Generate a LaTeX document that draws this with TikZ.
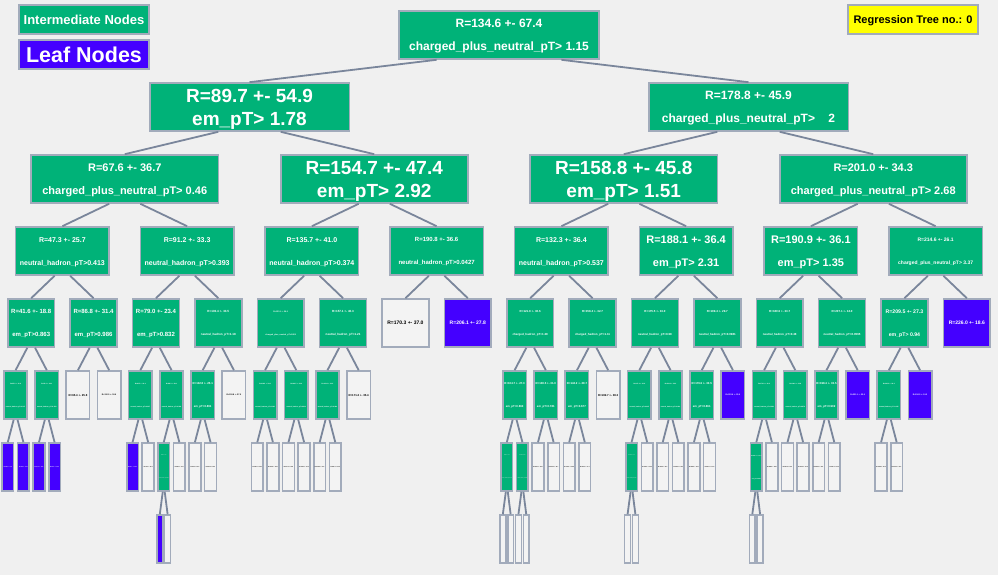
\documentclass[tikz,border=0pt]{standalone}
\usepackage{fontspec}
\setmainfont{Liberation Sans}
\definecolor{bgcol}{RGB}{240,240,240}
\definecolor{intercol}{RGB}{0,178,120}
\definecolor{sigcol}{RGB}{68,0,255}
\definecolor{bkgcol}{RGB}{243,243,243}
\definecolor{framecol}{RGB}{162,171,187}
\definecolor{edgecol}{RGB}{122,134,155}
\definecolor{titlecol}{RGB}{255,255,0}
\newcommand{\fsz}[1]{\fontsize{#1}{23}\selectfont\bfseries}
\newcommand{\ls}{\rule[-0.23em]{0pt}{1.176em}}
\newcommand{\two}[2]{\ls #1\\\ls #2}
\newcommand{\one}[1]{\ls #1}
\begin{document}
\begin{tikzpicture}[x = 1pt, y = -1pt,
      box/.style = {draw = framecol, line width = 1.6pt, inner sep = 0pt,
                    minimum height = 48pt, align = center},
      inter/.style = {box, fill = intercol, text = white},
      leafsig/.style = {box, fill = sigcol, text = white},
      leafbkg/.style = {box, fill = bkgcol, text = black},
      edge/.style = {draw = edgecol, line width = 1.8pt}]
      \path [use as bounding box, fill = bgcol] (0,0) rectangle (998,575);

      \node [inter, minimum width = 130pt, minimum height = 29pt, font = \fsz{13}]
        (legint) at (84,19.5) {\one{Intermediate Nodes}};
      \node [leafsig, minimum width = 130pt, minimum height = 29pt, font = \fsz{21.5}]
        (legleaf) at (84,54.5) {\one{Leaf Nodes}};
      \node [box, fill = titlecol, minimum width = 130pt, minimum height = 29pt, font = \fsz{11}]
        (title) at (913,19.5) {\one{Regression Tree no.: 0}};

      \node [inter, minimum width = 199.6pt, font = \fsz{12}] (n1-0) at (499,35)
        {\two{R=134.6 +- 67.4}{charged\_plus\_neutral\_pT> 1.15}};

      \node [inter, minimum width = 199.6pt, font = \fsz{19}] (n2-0) at (249.5,107)
        {\two{R=89.7 +- 54.9}{em\_pT> 1.78}};
      \node [inter, minimum width = 199.6pt, font = \fsz{12}] (n2-1) at (748.5,107)
        {\two{R=178.8 +- 45.9}{charged\_plus\_neutral\_pT>\ \ \ \ 2}};

      \node [inter, minimum width = 187.1pt, font = \fsz{11}] (n3-0) at (124.75,179)
        {\two{R=67.6 +- 36.7}{charged\_plus\_neutral\_pT> 0.46}};
      \node [inter, minimum width = 187.1pt, font = \fsz{19}] (n3-1) at (374.25,179)
        {\two{R=154.7 +- 47.4}{em\_pT> 2.92}};
      \node [inter, minimum width = 187.1pt, font = \fsz{19}] (n3-2) at (623.75,179)
        {\two{R=158.8 +- 45.8}{em\_pT> 1.51}};
      \node [inter, minimum width = 187.1pt, font = \fsz{11}] (n3-3) at (873.25,179)
        {\two{R=201.0 +- 34.3}{charged\_plus\_neutral\_pT> 2.68}};

      \node [inter, minimum width = 93.56pt, font = \fsz{7}] (n4-0) at (62.37,251)
        {\two{R=47.3 +- 25.7}{neutral\_hadron\_pT>0.413}};
      \node [inter, minimum width = 93.56pt, font = \fsz{7}] (n4-1) at (187.12,251)
        {\two{R=91.2 +- 33.3}{neutral\_hadron\_pT>0.393}};
      \node [inter, minimum width = 93.56pt, font = \fsz{7}] (n4-2) at (311.87,251)
        {\two{R=135.7 +- 41.0}{neutral\_hadron\_pT>0.374}};
      \node [inter, minimum width = 93.56pt, font = \fsz{6}] (n4-3) at (436.62,251)
        {\two{R=190.8 +- 36.6}{neutral\_hadron\_pT>0.0427}};
      \node [inter, minimum width = 93.56pt, font = \fsz{7}] (n4-4) at (561.37,251)
        {\two{R=132.3 +- 36.4}{neutral\_hadron\_pT>0.537}};
      \node [inter, minimum width = 93.56pt, font = \fsz{11}] (n4-5) at (686.12,251)
        {\two{R=188.1 +- 36.4}{em\_pT> 2.31}};
      \node [inter, minimum width = 93.56pt, font = \fsz{11}] (n4-6) at (810.87,251)
        {\two{R=190.9 +- 36.1}{em\_pT> 1.35}};
      \node [inter, minimum width = 93.56pt, font = \fsz{5}] (n4-7) at (935.62,251)
        {\two{R=214.6 +- 26.1}{charged\_plus\_neutral\_pT> 3.37}};

      \node [inter, minimum width = 46.78pt, font = \fsz{6}] (n5-0) at (31.19,323)
        {\two{R=41.6 +- 18.8}{em\_pT>0.863}};
      \node [inter, minimum width = 46.78pt, font = \fsz{6}] (n5-1) at (93.56,323)
        {\two{R=86.8 +- 31.4}{em\_pT>0.986}};
      \node [inter, minimum width = 46.78pt, font = \fsz{6}] (n5-2) at (155.94,323)
        {\two{R=79.0 +- 23.4}{em\_pT>0.832}};
      \node [inter, minimum width = 46.78pt, font = \fsz{3}] (n5-3) at (218.31,323)
        {\two{R=103.4 +- 33.5}{neutral\_hadron\_pT>1.18}};
      \node [inter, minimum width = 46.78pt, font = \fsz{2}] (n5-4) at (280.69,323)
        {\two{R=123.1 +- 39.0}{charged\_plus\_neutral\_pT>0.805}};
      \node [inter, minimum width = 46.78pt, font = \fsz{3}] (n5-5) at (343.06,323)
        {\two{R=157.1 +- 40.3}{neutral\_hadron\_pT>1.21}};
      \node [leafbkg, minimum width = 46.78pt, font = \fsz{5}] (n5-6) at (405.44,323)
        {\one{R=170.3 +- 37.0}};
      \node [leafsig, minimum width = 46.78pt, font = \fsz{5}] (n5-7) at (467.81,323)
        {\one{R=206.1 +- 27.8}};
      \node [inter, minimum width = 46.78pt, font = \fsz{2.9}] (n5-8) at (530.19,323)
        {\two{R=121.9 +- 30.6}{charged\_hadron\_pT>1.38}};
      \node [inter, minimum width = 46.78pt, font = \fsz{2.9}] (n5-9) at (592.56,323)
        {\two{R=158.4 +- 32.7}{charged\_hadron\_pT>1.11}};
      \node [inter, minimum width = 46.78pt, font = \fsz{2.9}] (n5-10) at (654.94,323)
        {\two{R=175.5 +- 33.0}{neutral\_hadron\_pT>0.68}};
      \node [inter, minimum width = 46.78pt, font = \fsz{2.9}] (n5-11) at (717.31,323)
        {\two{R=199.4 +- 29.7}{neutral\_hadron\_pT>0.0981}};
      \node [inter, minimum width = 46.78pt, font = \fsz{2.9}] (n5-12) at (779.69,323)
        {\two{R=180.6 +- 33.7}{neutral\_hadron\_pT>0.48}};
      \node [inter, minimum width = 46.78pt, font = \fsz{2.9}] (n5-13) at (842.06,323)
        {\two{R=207.1 +- 34.0}{neutral\_hadron\_pT>0.0565}};
      \node [inter, minimum width = 46.78pt, font = \fsz{5.2}] (n5-14) at (904.44,323)
        {\two{R=209.5 +- 27.3}{em\_pT> 0.94}};
      \node [leafsig, minimum width = 46.78pt, font = \fsz{5}] (n5-15) at (966.81,323)
        {\one{R=226.0 +- 18.6}};

      \foreach \k/\ta/\tb/\f in {0/{R=35.2 +- 12.9}/{neutral\_hadron\_pT>0.217}/1.6,
          1/{R=52.0 +- 18.1}/{neutral\_hadron\_pT>0.156}/1.6,
          4/{R=62.5 +- 19.4}/{neutral\_hadron\_pT>0.297}/1.6,
          5/{R=88.3 +- 20.9}/{neutral\_hadron\_pT>0.548}/1.6,
          6/{R=102.8 +- 25.1}/{em\_pT>0.891}/2.8,
          8/{R=118.2 +- 30.6}/{neutral\_hadron\_pT>0.192}/1.6,
          9/{R=149.5 +- 36.0}/{neutral\_hadron\_pT>0.611}/1.6,
          10/{R=143.6 +- 31.2}/{neutral\_hadron\_pT>0.184}/1.6,
          16/{R=104.7 +- 27.3}/{em\_pT>0.863}/2.8,
          17/{R=138.5 +- 31.0}/{em\_pT>0.781}/2.8,
          18/{R=142.2 +- 28.7}/{em\_pT>0.677}/2.8,
          20/{R=167.4 +- 31.9}/{neutral\_hadron\_pT>0.405}/1.6,
          21/{R=192.8 +- 33.2}/{neutral\_hadron\_pT>0.924}/1.6,
          22/{R=179.6 +- 30.5}/{em\_pT>0.861}/2.8,
          24/{R=170.9 +- 30.3}/{neutral\_hadron\_pT>0.239}/1.6,
          25/{R=194.6 +- 33.8}/{neutral\_hadron\_pT>0.874}/1.6,
          26/{R=198.4 +- 33.5}/{em\_pT>0.902}/2.8,
          28/{R=203.3 +- 26.2}/{neutral\_hadron\_pT>0.335}/1.6}
        \node [inter, minimum width = 23.39pt, font = \fsz{\f}] (n6-\k)
          at ({15.594*(2*\k+1)},395) {\two{\ta}{\tb}};
      \foreach \k/\t/\f in {2/{R=65.4 +- 25.8}/2.8, 3/{R=112.5 +- 30.9}/2,
          7/{R=130.8 +- 27.5}/2, 11/{R=171.2 +- 35.4}/2.8, 19/{R=182.7 +- 38.3}/2.8}
        \node [leafbkg, minimum width = 23.39pt, font = \fsz{\f}] (n6-\k)
          at ({15.594*(2*\k+1)},395) {\one{\t}};
      \foreach \k/\t in {23/{R=222.9 +- 25.0}, 27/{R=231.1 +- 22.6}, 29/{R=224.5 +- 19.2}}
        \node [leafsig, minimum width = 23.39pt, font = \fsz{2}] (n6-\k)
          at ({15.594*(2*\k+1)},395) {\one{\t}};

      \foreach \k/\ta/\tb/\f in {10/{R=96.1 +- 17.5}/{neutral\_hadron\_pT>0.812}/0.8,
          32/{R=88.4 +- 22.0}/{neutral\_hadron\_pT>0.145}/0.8,
          33/{R=121.6 +- 24.8}/{neutral\_hadron\_pT>0.288}/0.8,
          40/{R=151.2 +- 27.9}/{neutral\_hadron\_pT>0.173}/0.8,
          48/{R=152.7 +- 27.4}/{em\_pT>0.553}/1.4}
        \node [inter, minimum width = 11.7pt, font = \fsz{\f}] (n7-\k)
          at ({7.797*(2*\k+1)},467) {\two{\ta}{\tb}};
      \foreach \k/\t in {0/{R=28.1 +- 8.9}, 1/{R=43.5 +- 11.2}, 2/{R=47.0 +- 13.6},
          3/{R=60.3 +- 16.4}, 8/{R=51.7 +- 15.1}}
        \node [leafsig, minimum width = 11.7pt, font = \fsz{1.3}] (n7-\k)
          at ({7.797*(2*\k+1)},467) {\one{\t}};
      \foreach \k/\t in {9/{R=74.2 +- 18.3}, 11/{R=98.5 +- 21.7}, 12/{R=93.0 +- 20.6},
          13/{R=118.4 +- 24.2}, 16/{R=104.6 +- 26.1}, 17/{R=131.9 +- 29.3},
          18/{R=137.2 +- 30.8}, 19/{R=166.3 +- 33.4}, 20/{R=128.9 +- 27.6},
          21/{R=158.1 +- 31.5}, 34/{R=124.5 +- 26.0}, 35/{R=152.3 +- 30.7},
          36/{R=130.6 +- 25.9}, 37/{R=157.4 +- 27.2}, 41/{R=184.0 +- 30.4},
          42/{R=176.9 +- 31.3}, 43/{R=205.5 +- 30.0}, 44/{R=169.2 +- 29.1},
          45/{R=193.7 +- 27.8}, 49/{R=188.0 +- 29.6}, 50/{R=181.5 +- 31.2},
          51/{R=207.8 +- 32.9}, 52/{R=186.3 +- 30.1}, 53/{R=210.4 +- 31.6},
          56/{R=194.8 +- 25.3}, 57/{R=214.2 +- 24.7}}
        \node [leafbkg, minimum width = 11.7pt, font = \fsz{1.3}] (n7-\k)
          at ({7.797*(2*\k+1)},467) {\one{\t}};

      \node [leafsig, minimum width = 5.85pt] (n8-20) at ({3.898*41},539) {};
      \foreach \k in {21,64,65,66,67,80,81,96,97}
        \node [leafbkg, minimum width = 5.85pt] (n8-\k) at ({3.898*(2*\k+1)},539) {};

      \foreach \l/\ks in {2/{0,1}, 3/{0,...,3}, 4/{0,...,7}, 5/{0,...,15},
          6/{0,1,2,3,4,5,6,7,8,9,10,11,16,17,18,19,20,21,22,23,24,25,26,27,28,29},
          7/{0,1,2,3,8,9,10,11,12,13,16,17,18,19,20,21,32,33,34,35,36,37,40,41,42,43,44,45,48,49,50,51,52,53,56,57},
          8/{20,21,64,65,66,67,80,81,96,97}} {
        \pgfmathtruncatemacro\up{\l-1}
        \foreach \k in \ks {
          \pgfmathtruncatemacro\p{floor(\k/2)}
          \pgfmathsetmacro\dx{(2*mod(\k,2)-1)*998/2^(\l+2)}
          \draw [edge] ([xshift = \dx pt]n\up-\p.south) -- (n\l-\k.north);
        }
      }
    \end{tikzpicture}
\end{document}
